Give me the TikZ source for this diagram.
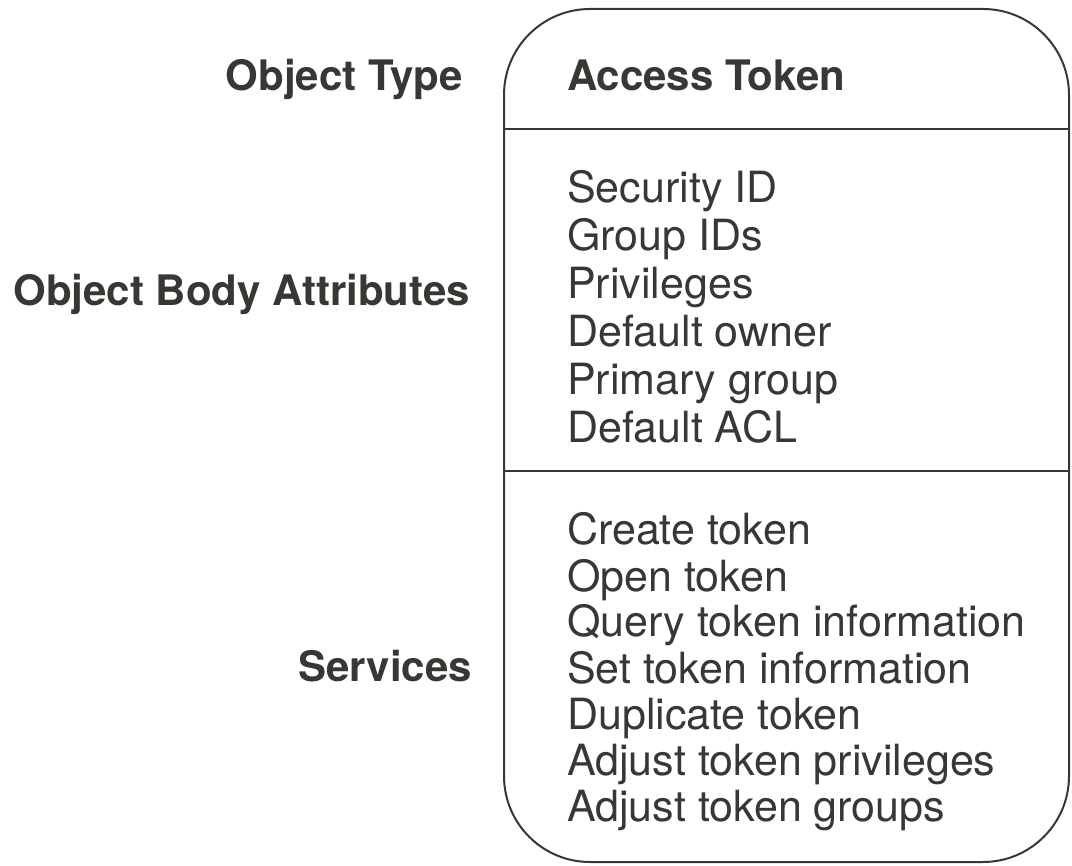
\documentclass[tikz,border=0pt]{standalone}
\usepackage{fontspec}
\setmainfont{TeX Gyre Heros}
\usepackage{tikz}
\usetikzlibrary{calc}

\definecolor{ink}{RGB}{55,55,52}

\tikzset{
  lbl/.style={anchor=base east, text=ink, inner sep=0pt, font=\fontsize{42}{47}\bfseries},
  hdr/.style={anchor=base west, text=ink, inner sep=0pt, font=\fontsize{42}{47}\bfseries},
  item/.style={anchor=base west, text=ink, inner sep=0pt, font=\fontsize{43}{47}\selectfont}
}

\begin{document}
\begin{tikzpicture}[x=1pt,y=-1pt]
\useasboundingbox (0,0) rectangle (1072,866);

\draw[ink, line width=2pt, rounded corners=86pt] (504,9) rectangle (1069,862);
\draw[ink, line width=2pt] (504,129) -- (1069,129);
\draw[ink, line width=2pt] (504,471) -- (1069,471);

\node[lbl] (typelbl) at (463,91) {Object Type};
\node[lbl] (bodylbl) at (470,306) {Object Body Attributes};
\node[lbl] (svclbl) at (472,681) {Services};

\node[hdr] (tok) at (567,91) {Access Token};

\node[item] (sid) at (567,203) {Security ID};
\node[item] (gid) at (567,251) {Group IDs};
\node[item] (priv) at (567,299) {Privileges};
\node[item] (owner) at (567,347) {Default owner};
\node[item] (pgrp) at (567,395) {Primary group};
\node[item] (acl) at (567,443) {Default ACL};

\node[item] (create) at (567,545) {Create token};
\node[item] (open) at (567,591) {Open token};
\node[item] (query) at (567,637) {Query token information};
\node[item] (set) at (567,683) {Set token information};
\node[item] (dup) at (567,729) {Duplicate token};
\node[item] (adjp) at (567,775) {Adjust token privileges};
\node[item] (adjg) at (567,821) {Adjust token groups};
\end{tikzpicture}
\end{document}
